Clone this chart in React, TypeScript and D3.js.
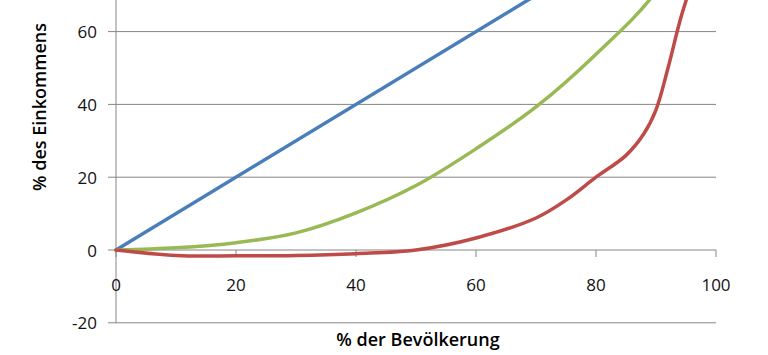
import React from "react";
import * as d3 from "d3";

const xTicks = [0, 20, 40, 60, 80, 100];
const yTicks = [-20, 0, 20, 40, 60];

const equalityX = [0, 100];
const equalityY = [0, 100];

const greenX = [0, 10, 20, 30, 40, 50, 60, 70, 80, 90, 100];
const greenY = [0, 0.6, 2, 4.7, 10.2, 17.7, 27.8, 39.3, 53.8, 71, 100];

const redX = [0, 10, 20, 30, 40, 50, 60, 70, 75, 80, 85, 88, 90, 92, 94, 96, 100];
const redY = [0, -1.5, -1.6, -1.5, -1, 0, 3.3, 8.8, 13.7, 20, 26, 32, 38.5, 50, 63, 74, 100];

const series = [
  { name: "Gleichverteilung", xs: equalityX, ys: equalityY, color: "#4A7EBB" },
  { name: "Lorenzkurve A", xs: greenX, ys: greenY, color: "#98B954" },
  { name: "Lorenzkurve B", xs: redX, ys: redY, color: "#BE4B48" },
];

export default function App() {
  const W = 768, H = 355;
  const x = d3.scaleLinear().domain([0, 100]).range([116, 716]);
  const y = d3.scaleLinear().domain([0, 20]).range([250, 177.2]);
  const line = d3
    .line<[number, number]>()
    .x((d) => x(d[0]))
    .y((d) => y(d[1]))
    .curve(d3.curveCatmullRom.alpha(0.5));
  const grid = "#868686";
  const font = "'Open Sans', sans-serif";
  return (
    <svg
      width={W}
      height={H}
      style={{ position: "absolute", left: 0, top: 0, background: "#fff" }}
    >
      <rect x={0} y={0} width={W} height={H} fill="#fff" />
      {[...yTicks, 80, 100]
        .filter((t) => t !== 0)
        .map((t) => (
          <line key={"g" + t} x1={108} x2={716} y1={y(t)} y2={y(t)} stroke={grid} strokeWidth={1} />
        ))}
      <line x1={116} x2={116} y1={y(100)} y2={y(-20)} stroke={grid} strokeWidth={1} />
      <line x1={108} x2={716} y1={y(0)} y2={y(0)} stroke={grid} strokeWidth={1} />
      {xTicks.map((t) => (
        <line key={"xt" + t} x1={x(t)} x2={x(t)} y1={y(0)} y2={y(0) + 7} stroke={grid} strokeWidth={1} />
      ))}
      {yTicks.map((t) => (
        <text
          key={"yl" + t}
          x={97}
          y={y(t)}
          textAnchor="end"
          dominantBaseline="central"
          fontFamily={font}
          fontSize={17}
          fill="#111"
        >
          {t}
        </text>
      ))}
      {xTicks.map((t) => (
        <text
          key={"xl" + t}
          x={x(t)}
          y={284}
          textAnchor="middle"
          dominantBaseline="central"
          fontFamily={font}
          fontSize={17}
          fill="#111"
        >
          {t}
        </text>
      ))}
      {series.map((s) => (
        <path
          key={s.name}
          d={line(s.xs.map((v, i) => [v, s.ys[i]] as [number, number])) || ""}
          fill="none"
          stroke={s.color}
          strokeWidth={3.5}
          strokeLinejoin="round"
          strokeLinecap="round"
        />
      ))}
      <text
        x={418}
        y={339}
        textAnchor="middle"
        dominantBaseline="central"
        fontFamily={font}
        fontSize={18}
        fontWeight={600}
        fill="#000"
      >
        % der Bevölkerung
      </text>
      <text
        transform={`translate(39,107) rotate(-90)`}
        textAnchor="middle"
        dominantBaseline="central"
        fontFamily={font}
        fontSize={18}
        fontWeight={600}
        fill="#000"
      >
        % des Einkommens
      </text>
    </svg>
  );
}
